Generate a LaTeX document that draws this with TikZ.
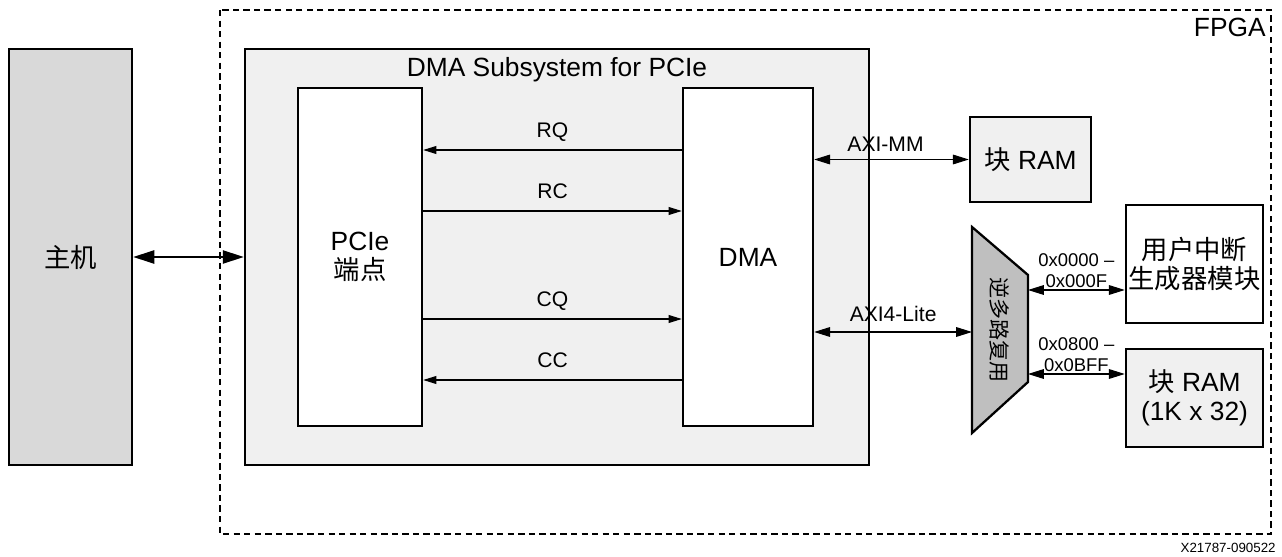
\documentclass[tikz,border=0pt]{standalone}
\usepackage{fontspec}
\setmainfont{Liberation Sans}
\newfontfamily\cjk{Noto Sans CJK SC}
\usetikzlibrary{arrows.meta}
\providecommand\mainsize{\fontsize{15}{16.8}\selectfont}
\providecommand\lblsize{\fontsize{12}{14}\selectfont}
\providecommand\addrsize{\fontsize{10.5}{12.3}\selectfont}
\providecommand\tagsize{\fontsize{7.6}{9}\selectfont}
\definecolor{hostgray}{HTML}{D9D9D9}
\definecolor{subgray}{HTML}{F0F0F0}
\definecolor{muxgray}{HTML}{BFBFBF}

\begin{document}
\begin{tikzpicture}[x=0.02cm,y=-0.02cm]
  \tikzstyle{block} = [rectangle, draw, line width=1.4pt, inner sep=0pt, align=center,
                       font=\mainsize]
  \tikzstyle{sig} = [line width=0.6pt, -{Triangle[length=7.5pt,width=4.5pt]}]
  \tikzstyle{bus} = [line width=0.6pt, {Triangle[length=9pt,width=5.5pt]}-{Triangle[length=9pt,width=5.5pt]}]
  \tikzstyle{lbl} = [inner sep=0pt, text depth=0pt, font=\lblsize]
  \tikzstyle{addr} = [inner sep=0pt, text depth=0pt, align=center, font=\addrsize, above=1pt]
\useasboundingbox (0,0) rectangle (1282,557);
\draw[line width=0.6pt, dash pattern=on 3.6pt off 2.4pt] (220,10) rectangle (1271,534);
\node[anchor=base east, inner sep=0pt, font=\mainsize] (fpga) at (1266,37) {FPGA};
\node[block, fill=hostgray, minimum width=2.46cm, minimum height=8.32cm] (host) at (70.5,257) {{\cjk 主机}};
\node[block, fill=subgray, minimum width=12.48cm, minimum height=8.32cm] (sub) at (557,257) {};
\node[anchor=base, inner sep=0pt, font=\mainsize] (subtitle) at (557,77) {DMA Subsystem for PCIe};
\node[block, fill=white, minimum width=2.48cm, minimum height=6.76cm] (pcie) at (360,257) {PCIe\\{\cjk 端点}};
\node[block, fill=white, minimum width=2.6cm, minimum height=6.76cm] (dma) at (748,257) {DMA};
\node[block, fill=subgray, minimum width=2.42cm, minimum height=1.7cm] (bram) at (1030.5,159.5) {{\cjk 块} RAM};
\node[block, fill=white, minimum width=2.74cm, minimum height=2.36cm] (uig) at (1194.5,264) {{\cjk 用户中断}\\{\cjk 生成器模块}};
\node[block, fill=subgray, minimum width=2.74cm, minimum height=1.96cm] (bram2) at (1194.5,398) {{\cjk 块} RAM\\(1K x 32)};
% demux
\draw[line width=1.3pt, fill=muxgray] (972,227) -- (1028,275) -- (1028,382) -- (972,433) -- cycle;
\node[rotate=-90, inner sep=0pt, font=\lblsize\cjk] (mux) at (1000,330) {逆多路复用};
\coordinate (muxin) at (972,332);
\coordinate (muxa) at (1028,290);
\coordinate (muxb) at (1028,374);
\draw[line width=1.1pt, {Triangle[length=12pt,width=7.5pt]}-{Triangle[length=12pt,width=7.5pt]}] (host.east) -- (sub.west);
\draw[sig] (dma.west |- 0,150) -- node[lbl, above=6.8pt] {RQ} (pcie.east |- 0,150);
\draw[sig] (pcie.east |- 0,211) -- node[lbl, above=6.8pt] {RC} (dma.west |- 0,211);
\draw[sig] (pcie.east |- 0,319) -- node[lbl, above=6.8pt] {CQ} (dma.west |- 0,319);
\draw[sig] (dma.west |- 0,380) -- node[lbl, above=6.8pt] {CC} (pcie.east |- 0,380);
\draw[bus] (dma.east |- bram.west) -- node[lbl, above=4.5pt, xshift=-0.12cm] {AXI-MM} (bram.west);
\draw[bus] (dma.east |- muxin) -- node[lbl, above=5.5pt] {AXI4-Lite} (muxin);
\draw[bus] (muxa) -- node[addr] {0x0000 –\\0x000F} (uig.west |- muxa);
\draw[bus] (muxb) -- node[addr] {0x0800 –\\0x0BFF} (bram2.west |- muxb);
\node[anchor=base east, inner sep=0pt, font=\tagsize] (tag) at (1276,552) {X21787-090522};
\end{tikzpicture}
\end{document}
